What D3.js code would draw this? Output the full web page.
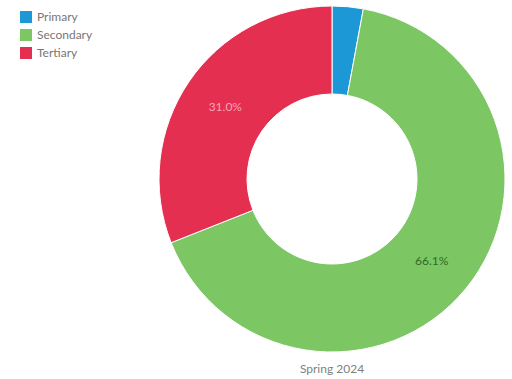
<!DOCTYPE html>
<html>
<head>
<meta charset="utf-8">
<script src="https://cdn.jsdelivr.net/npm/d3@7"></script>
<style>
  html, body { margin: 0; padding: 0; background: #fff; }
  svg { display: block; font-family: "Lato", "Noto Sans", sans-serif; }
</style>
</head>
<body>
<svg id="chart" width="512" height="379"></svg>
<script>
// Education level split for one term
const categories = ["Primary", "Secondary", "Tertiary"];
const shares = [2.9, 66.1, 31.0];
const sliceColors = ["#1b98d5", "#7cc664", "#e52f51"];
const labelColors = ["#ffffff", "#2f6b24", "#f5a3b3"];
const periodLabel = "Spring 2024";

const svg = d3.select("#chart");
const cx = 332, cy = 179;
const outerR = 173, innerR = 85;

const data = categories.map((c, i) => ({ name: c, value: shares[i], i }));

const pie = d3.pie().value(d => d.value).sort(null);
const arc = d3.arc().innerRadius(innerR).outerRadius(outerR);
const labelArc = d3.arc().innerRadius((innerR + outerR) / 2).outerRadius((innerR + outerR) / 2);
const color = d3.scaleOrdinal().domain(categories).range(sliceColors);

const g = svg.append("g").attr("transform", `translate(${cx},${cy})`);
const arcs = pie(data);

g.selectAll("path")
  .data(arcs)
  .join("path")
  .attr("d", arc)
  .attr("fill", d => color(d.data.name))
  .attr("stroke", "#fff")
  .attr("stroke-width", 1);

// Percentage labels on slices wide enough to hold them
g.selectAll("text.pct")
  .data(arcs.filter(d => d.data.value >= 5))
  .join("text")
  .attr("class", "pct")
  .attr("transform", d => `translate(${labelArc.centroid(d)})`)
  .attr("text-anchor", "middle")
  .attr("dy", "0.35em")
  .attr("font-size", 12)
  .attr("fill", d => labelColors[d.data.i])
  .text(d => d3.format(".1f")(d.data.value) + "%");

// Legend
const legend = svg.append("g").attr("transform", "translate(20,11)");
const item = legend.selectAll("g")
  .data(categories)
  .join("g")
  .attr("transform", (d, i) => `translate(0,${i * 18})`);
item.append("rect")
  .attr("width", 12).attr("height", 12)
  .attr("fill", d => color(d));
item.append("text")
  .attr("x", 17).attr("y", 6).attr("dy", "0.35em")
  .attr("font-size", 12)
  .attr("fill", "#777")
  .text(d => d);

svg.append("text")
  .attr("x", 332).attr("y", 369)
  .attr("dy", "0.35em")
  .attr("text-anchor", "middle")
  .attr("font-size", 12)
  .attr("fill", "#808080")
  .text(periodLabel);
</script>
</body>
</html>
